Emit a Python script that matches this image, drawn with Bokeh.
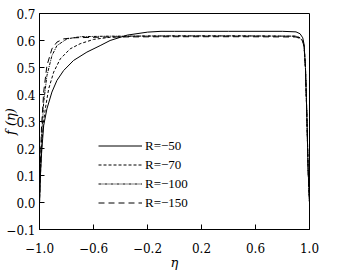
from bokeh.plotting import figure
from bokeh.models import Range1d, FixedTicker, Legend, LegendItem
from bokeh.embed import file_html
from bokeh.resources import INLINE

# ---- data ----
eta_50 = [-1.0, -0.995, -0.985, -0.969, -0.945, -0.908, -0.871, -0.821, -0.748, -0.649, -0.551, -0.477,
          -0.35, -0.2, -0.1, 0.0, 0.4, 0.8, 0.9, 0.93, 0.95, 0.96, 0.97, 0.98, 0.99, 1.0]
f_50 = [0.0, 0.08, 0.18, 0.285, 0.347, 0.409, 0.452, 0.489, 0.526, 0.557, 0.581, 0.6,
        0.62, 0.631, 0.634, 0.634, 0.634, 0.634, 0.632, 0.625, 0.61, 0.585, 0.5, 0.33, 0.12, 0.0]

eta_70 = [-1.0, -0.995, -0.985, -0.972, -0.957, -0.932, -0.895, -0.846, -0.773, -0.699, -0.6, -0.477,
          -0.3, 0.0, 0.5, 0.9, 0.93, 0.95, 0.96, 0.97, 0.98, 0.99, 1.0]
f_70 = [0.0, 0.08, 0.2, 0.29, 0.347, 0.421, 0.483, 0.532, 0.569, 0.588, 0.604, 0.612,
        0.616, 0.617, 0.617, 0.616, 0.61, 0.6, 0.58, 0.5, 0.33, 0.12, 0.0]

eta_100 = [-1.0, -0.995, -0.985, -0.969, -0.945, -0.908, -0.871, -0.797, -0.699, -0.5, 0.0, 0.5,
           0.9, 0.93, 0.95, 0.96, 0.97, 0.98, 0.99, 1.0]
f_100 = [0.0, 0.1, 0.24, 0.371, 0.47, 0.544, 0.581, 0.606, 0.614, 0.616, 0.617, 0.617,
         0.616, 0.609, 0.598, 0.578, 0.5, 0.33, 0.12, 0.0]

eta_150 = [-1.0, -0.995, -0.985, -0.969, -0.945, -0.908, -0.871, -0.821, -0.75, -0.5, 0.0, 0.5,
           0.9, 0.93, 0.95, 0.96, 0.97, 0.98, 0.99, 1.0]
f_150 = [0.0, 0.12, 0.28, 0.409, 0.507, 0.569, 0.594, 0.606, 0.61, 0.613, 0.614, 0.614,
         0.613, 0.607, 0.596, 0.576, 0.5, 0.33, 0.12, 0.0]

series_labels = ["R=\u221250", "R=\u221270", "R=\u2212100", "R=\u2212150"]

x_ticks = [-1.0, -0.6, -0.2, 0.2, 0.6, 1.0]
x_tick_labels = ["\u22121.0", "\u22120.6", "\u22120.2", "0.2", "0.6", "1.0"]
y_ticks = [-0.1, 0.0, 0.1, 0.2, 0.3, 0.4, 0.5, 0.6, 0.7]
y_tick_labels = ["\u22120.1", "0.0", "0.1", "0.2", "0.3", "0.4", "0.5", "0.6", "0.7"]

FONT = "DejaVu Serif"

p = figure(width=349, height=280, output_backend="svg", toolbar_location=None,
           x_range=Range1d(-1.0, 1.0), y_range=Range1d(-0.1, 0.7),
           min_border_left=38, min_border_right=40, min_border_top=13, min_border_bottom=51)
p.background_fill_color = "white"
p.border_fill_color = "white"
p.outline_line_color = "black"
p.outline_line_width = 1
p.grid.visible = False

for ax, ticks, labels in ((p.xaxis[0], x_ticks, x_tick_labels), (p.yaxis[0], y_ticks, y_tick_labels)):
    ax.ticker = FixedTicker(ticks=ticks)
    ax.major_label_overrides = {t: l for t, l in zip(ticks, labels)}
    ax.major_tick_in = 5
    ax.major_tick_out = 0
    ax.minor_tick_line_color = None
    ax.axis_line_color = "black"
    ax.major_tick_line_color = "black"
    ax.major_label_text_font = FONT
    ax.major_label_text_font_size = "12px"
    ax.major_label_text_color = "black"
    ax.axis_label_text_font = FONT
    ax.axis_label_text_font_style = "italic"
    ax.axis_label_text_font_size = "13px"
    ax.axis_label_text_color = "black"

p.yaxis.axis_label = "f (\u03b7)"
p.yaxis.major_label_standoff = 4
p.yaxis.axis_label_standoff = -15
p.xaxis.axis_label = "\u03b7"
p.xaxis.major_label_standoff = 13
p.xaxis.axis_label_standoff = -1

styles = [("solid", f_50, eta_50), ("3 2", f_70, eta_70), ("3 1 1 1", f_100, eta_100), ("6 4", f_150, eta_150)]
items = []
for (dash, fv, ev), lab in zip(styles, series_labels):
    r = p.line(ev, fv, line_color="black", line_width=1, line_dash=dash)
    items.append(LegendItem(label=lab, renderers=[r]))

legend = Legend(items=items, location=(59, 17))
legend.background_fill_alpha = 0
legend.border_line_color = None
legend.padding = 0
legend.margin = 0
legend.spacing = 0
legend.glyph_width = 44
legend.glyph_height = 19
legend.label_height = 19
legend.label_standoff = 3
legend.label_text_font = "Liberation Serif"
legend.label_text_font_size = "13px"
legend.label_text_color = "black"
p.add_layout(legend, "center")

open("out.html", "w").write(file_html(p, INLINE))
